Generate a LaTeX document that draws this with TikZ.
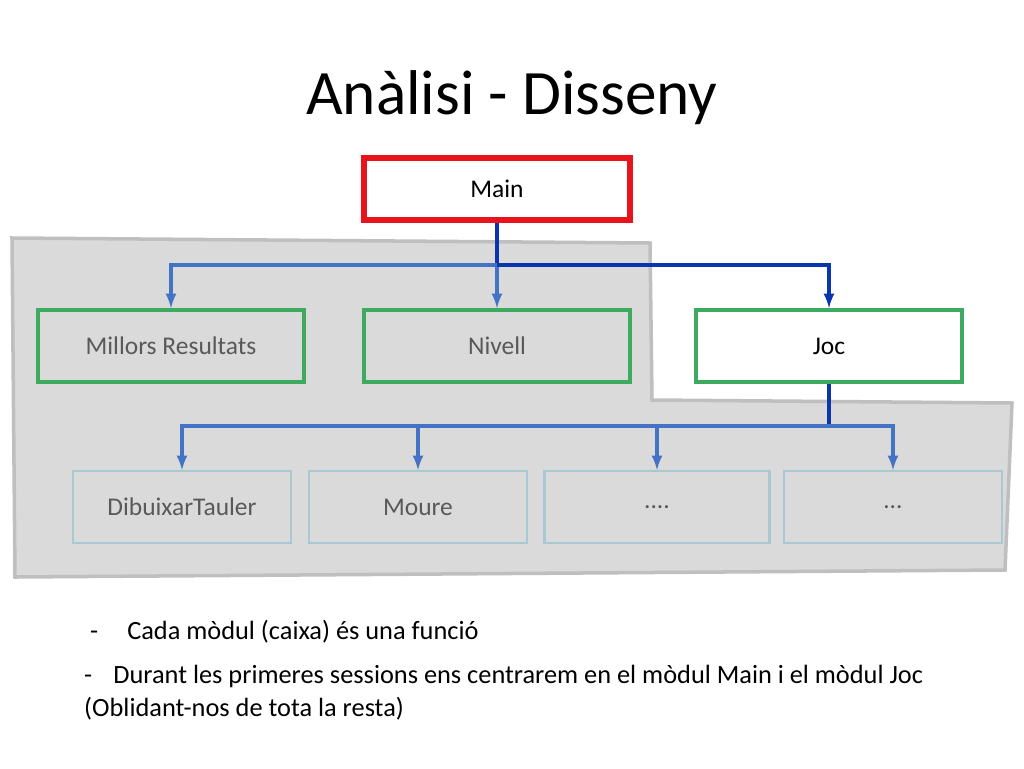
\documentclass[tikz,border=0pt]{standalone}
\usepackage{fontspec}
\setmainfont{Carlito}
\usetikzlibrary{positioning}
\definecolor{boxgreen}{HTML}{3DAA60}
\definecolor{boxred}{HTML}{E8131B}
\definecolor{lightblue}{HTML}{4472C4}
\definecolor{darkblue}{HTML}{0B35B0}
\definecolor{subedge}{HTML}{A8C8D2}
\definecolor{panel}{HTML}{DADADA}
\begin{document}
\begin{tikzpicture}[x=0.02cm,y=-0.02cm,
  module/.style={draw=boxgreen,line width=2.2pt,fill=panel,minimum width=5.32cm,minimum height=1.44cm,font=\fontsize{14.5}{17}\selectfont,text=black!65},
  sub/.style={draw=subedge,line width=1.2pt,fill=panel,minimum width=4.36cm,minimum height=1.44cm,font=\fontsize{14.5}{17}\selectfont,text=black!65},
  link/.style={lightblue,line width=1.8pt,-latex},
  trunk/.style={darkblue,line width=2.2pt}]

  \useasboundingbox (0,0) rectangle (1024,768);

  % grey panel behind the modules
  \draw[fill=panel,draw=black!25,line width=2pt]
    (12,238) -- (650,243) -- (652,400) -- (1012,403) -- (1005,570) -- (15,577) -- cycle;

  \node[font=\fontsize{36}{40}\selectfont] (title) at (512,98) {Anàlisi - Disseny};

  \node[module,draw=boxred,line width=3pt,fill=white,minimum height=1.24cm,text=black] (main) at (497,189) {Main};
  \node[module] (millors) at (171,346) {Millors Resultats};
  \node[module] (nivell) at (497,346) {Nivell};
  \node[module,fill=white,text=black] (joc) at (829,346) {Joc};

  \node[sub] (dibuixar) at (182,507) {DibuixarTauler};
  \node[sub] (moure) at (418,507) {Moure};
  \node[sub,minimum width=4.5cm] (punts) at (657,507) {....};
  \node[sub] (altres) at (893,507) {…};

  \coordinate (top) at (497,265);
  \coordinate (mid) at (829,426);

  \draw[trunk] (main.south) -- (top);
  \draw[link] (top) -| (millors.north);
  \draw[link] (top) -- (nivell.north);
  \draw[link,darkblue] (top) -| (joc.north);

  \draw[trunk] (joc.south) -- (mid);
  \foreach \n in {dibuixar,moure,punts,altres}
    \draw[link] (mid) -| (\n.north);

  \node[anchor=west,font=\fontsize{15}{17}\selectfont] (bullet1) at (84,632) {-\hspace{1.1em}Cada mòdul (caixa) és una funció};
  \node[anchor=north west,align=left,font=\fontsize{15}{19}\selectfont] (bullet2) at (78,659)
    {-\hspace{0.8em}Durant les primeres sessions ens centrarem en el mòdul Main i el mòdul Joc\\(Oblidant-nos de tota la resta)};
\end{tikzpicture}
\end{document}
